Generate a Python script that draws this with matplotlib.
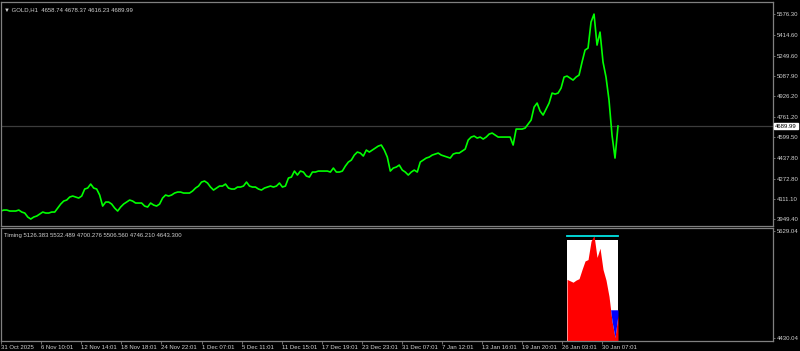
import numpy as np
import matplotlib
matplotlib.use('Agg')
import matplotlib.pyplot as plt

plt.rcParams['font.family'] = ['Liberation Sans', 'DejaVu Sans']

# GOLD H1 closes, one value every 3 bars
close = [
    4015.3, 4023.2, 4023.2, 4015.3, 4015.3, 4015.3, 4023.2, 4007.3, 3999.4, 3967.7,
    3951.8, 3967.7, 3975.6, 3991.5, 4007.3, 3999.4, 3999.4, 4007.3, 4007.3, 4039.1,
    4070.8, 4094.6, 4102.6, 4126.4, 4134.3, 4126.4, 4118.4, 4134.3, 4189.9, 4197.8,
    4229.5, 4197.8, 4189.9, 4142.2, 4054.9, 4086.7, 4086.7, 4070.8, 4039.1, 4015.3,
    4047.0, 4070.8, 4086.7, 4102.6, 4094.6, 4078.8, 4078.8, 4078.8, 4054.9, 4047.0,
    4078.8, 4062.9, 4054.9, 4070.8, 4118.4, 4142.2, 4134.3, 4142.2, 4158.1, 4166.0,
    4166.0, 4158.1, 4158.1, 4158.1, 4174.0, 4197.8, 4213.7, 4245.4, 4253.4, 4237.5,
    4205.7, 4181.9, 4197.8, 4213.7, 4213.7, 4229.5, 4197.8, 4189.9, 4189.9, 4205.7,
    4205.7, 4213.7, 4245.4, 4213.7, 4205.7, 4205.7, 4189.9, 4181.9, 4197.8, 4205.7,
    4213.7, 4205.7, 4213.7, 4237.5, 4205.7, 4213.7, 4277.2, 4285.1, 4332.7, 4301.0,
    4332.7, 4324.8, 4293.0, 4285.1, 4324.8, 4324.8, 4332.7, 4332.7, 4332.7, 4332.7,
    4324.8, 4356.5, 4324.8, 4324.8, 4332.7, 4372.4, 4404.1, 4420.0, 4459.7, 4483.5,
    4475.6, 4451.8, 4499.4, 4483.5, 4499.4, 4515.3, 4531.1, 4539.1, 4499.4, 4443.8,
    4332.7, 4356.5, 4364.5, 4380.3, 4340.6, 4324.8, 4301.0, 4324.8, 4340.6, 4324.8,
    4404.1, 4420.0, 4435.9, 4443.8, 4459.7, 4467.6, 4475.6, 4459.7, 4451.8, 4443.8,
    4435.9, 4467.6, 4475.6, 4475.6, 4491.4, 4507.3, 4578.8, 4602.6, 4610.5, 4594.6,
    4602.6, 4586.7, 4602.6, 4626.4, 4634.3, 4618.4, 4602.6, 4602.6, 4602.6, 4602.6,
    4602.6, 4539.1, 4666.0, 4666.0, 4666.0, 4674.0, 4705.7, 4737.5, 4840.6, 4872.4,
    4808.9, 4777.1, 4824.8, 4872.4, 4951.7, 4943.8, 4951.7, 4991.4, 5078.7, 5086.7,
    5070.8, 5054.9, 5078.7, 5094.6, 5197.8, 5293.0, 5308.9, 5515.2, 5578.7, 5332.7,
    5435.9, 5197.8, 5078.7, 4896.2, 4618.4, 4435.9, 4689.99,
]
bar_step = 3

price_ticks = [5576.30, 5414.60, 5249.60, 5087.90, 4926.20, 4761.20, 4599.50,
               4437.80, 4272.80, 4111.10, 3949.40]
last_price = 4689.99
title_main = '\u25bc GOLD,H1  4658.74 4678.37 4616.23 4689.99'

timing_vals = [5126.383, 5532.489, 4700.276, 5506.560, 4746.210, 4643.300]
timing_cap = 5574.0
timing_start = 567
sub_ticks = [5629.04, 4430.04]

date_labels = ['31 Oct 2025', '6 Nov 10:01', '12 Nov 14:01', '18 Nov 18:01',
               '24 Nov 22:01', '1 Dec 07:01', '5 Dec 11:01', '11 Dec 15:01',
               '17 Dec 19:01', '23 Dec 23:01', '31 Dec 07:01', '7 Jan 12:01',
               '13 Jan 16:01', '19 Jan 20:01', '26 Jan 03:01', '30 Jan 07:01']
bars_per_label = 40.1

bars = np.arange(len(close)) * bar_step
close = np.array(close)

fg = '#d0d0d0'
frame = '#808080'
fs = 4.3

fig = plt.figure(figsize=(8, 3.51), dpi=100, facecolor='black')
ax = fig.add_axes([0.001, 0.356, 0.965, 0.638])
ax2 = fig.add_axes([0.001, 0.0285, 0.965, 0.322])

for a in (ax, ax2):
    a.set_facecolor('black')
    for s in a.spines.values():
        s.set_color(frame)
        s.set_linewidth(0.9)
    a.set_xlim(0, 773)
    a.yaxis.tick_right()
    a.tick_params(axis='y', colors=frame, labelcolor=fg, labelsize=fs,
                  length=1.6, width=0.6, pad=1.5)

# main price window
ax.plot(bars, close, color='#00ff00', lw=1.2)
ax.axhline(last_price, color='#3c3c3c', lw=0.9, zorder=0)
ax.set_ylim(3896.2, 5673.9)
ax.set_yticks(price_ticks)
ax.set_yticklabels(['%.2f' % v for v in price_ticks])
ax.set_xticks([])
ax.annotate('%.2f' % last_price, xy=(1.003, last_price),
            xycoords=('axes fraction', 'data'), va='center', ha='left',
            fontsize=fs, color='black',
            bbox=dict(boxstyle='square,pad=0.15', fc='white', ec='white'),
            annotation_clip=False)
ax.text(0.004, 0.975, title_main, transform=ax.transAxes, color=fg,
        fontsize=fs, va='top', ha='left',
        family=['Liberation Sans', 'DejaVu Sans'])

# timing sub window
ybot, ytop = 4396.4, 5662.7
win = bars >= timing_start
bw = bars[win]
cw = close[win]
ax2.fill_between([bw[0], bw[-1]], ybot, timing_vals[1], color='white', lw=0)
ax2.fill_between(bw, ybot, cw, color='red', lw=0)
ax2.fill_between(bw, cw, timing_vals[4], where=cw < timing_vals[4],
                 interpolate=True, color='blue', lw=0)
ax2.plot([bw[0], bw[-1]], [timing_cap, timing_cap], color='#00e5e5', lw=1.3)
ax2.set_ylim(ybot, ytop)
ax2.set_yticks(sub_ticks)
ax2.set_yticklabels(['%.2f' % v for v in sub_ticks])
ax2.text(0.004, 0.955, 'Timing ' + ' '.join('%.3f' % v for v in timing_vals),
         transform=ax2.transAxes, color=fg, fontsize=fs, va='top', ha='left')

xt = np.arange(len(date_labels)) * bars_per_label + 0.5
ax2.set_xticks(xt)
ax2.set_xticklabels(date_labels, ha='left')
ax2.tick_params(axis='x', colors=frame, labelcolor=fg, labelsize=fs,
                length=2.0, width=0.6, pad=0.8)

fig.savefig('out.png', dpi=100, facecolor='black')
